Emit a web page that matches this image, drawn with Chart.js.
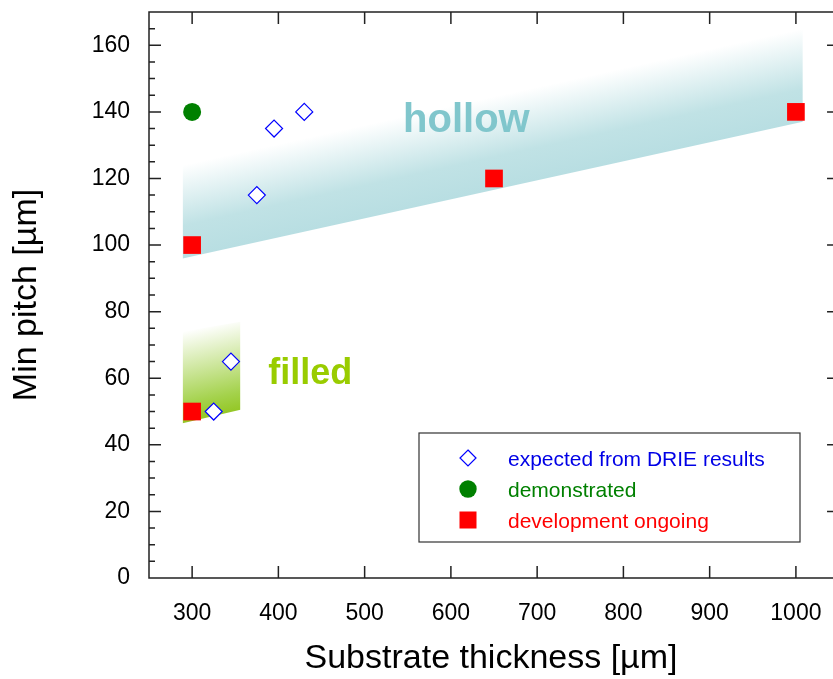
<!DOCTYPE html>
<html>
<head>
  <title>Min pitch vs substrate thickness</title>
  <script src="https://cdn.jsdelivr.net/npm/chart.js"></script>
  <style>
    html, body {
      margin: 0;
      padding: 0;
      background: #ffffff;
      overflow: hidden;
    }
  </style>
</head>
<body>
  <canvas id="pitch" width="833" height="679"></canvas>

  <script>
    // marker series
    var expectedX = [325, 345, 375, 395, 430];
    var expectedY = [50, 65, 115, 135, 140];
    var demoX = [300];
    var demoY = [140];
    var ongoingX = [300, 300, 650, 1000];
    var ongoingY = [50, 100, 120, 140];

    // shaded regions (lower and upper edge)
    var hollowX = [289, 1008];
    var hollowLow = [96, 137];
    var hollowHigh = [124, 165];
    var filledX = [289, 356];
    var filledLow = [46.5, 50.5];
    var filledHigh = [74, 77];

    // ticks
    var xTicks = [300, 400, 500, 600, 700, 800, 900, 1000];
    var yTicks = [0, 20, 40, 60, 80, 100, 120, 140, 160];
    var yMinorStep = 5;
    var xFrameEnd = 1050; // right frame sits just past the visible edge

    var legendLabels = ['expected from DRIE results', 'demonstrated', 'development ongoing'];

    function pts(xs, ys) {
      return xs.map(function (x, i) { return { x: x, y: ys[i] }; });
    }

    // gradient running across the slanted band, from the lower edge up
    function bandGradient(xs, low, high, stops) {
      return function (context) {
        var chart = context.chart;
        if (!chart.chartArea) return null;
        var sx = chart.scales.x, sy = chart.scales.y;
        var x0 = sx.getPixelForValue(xs[0]), x1 = sx.getPixelForValue(xs[1]);
        var b0 = sy.getPixelForValue(low[0]), b1 = sy.getPixelForValue(low[1]);
        var t0 = sy.getPixelForValue(high[0]);
        var dx = x1 - x0, dy = b1 - b0;
        var len = Math.sqrt(dx * dx + dy * dy);
        var nx = dy / len, ny = -dx / len;
        var dist = (t0 - b0) * ny;
        var mx = (x0 + x1) / 2, my = (b0 + b1) / 2;
        var g = chart.ctx.createLinearGradient(mx, my, mx + nx * dist, my + ny * dist);
        stops.forEach(function (s) { g.addColorStop(s[0], s[1]); });
        return g;
      };
    }

    function fixedTicks(list) {
      return function (scale) {
        scale.ticks = list.map(function (v) { return { value: v }; });
      };
    }

    var framePlugin = {
      id: 'frame',
      afterDraw: function (chart) {
        var ctx = chart.ctx, a = chart.chartArea;
        var sx = chart.scales.x, sy = chart.scales.y;
        var right = sx.getPixelForValue(xFrameEnd);
        ctx.save();
        ctx.strokeStyle = '#222222';
        ctx.lineWidth = 1.5;
        ctx.beginPath();
        ctx.moveTo(right, a.top); ctx.lineTo(a.left, a.top);
        ctx.lineTo(a.left, a.bottom); ctx.lineTo(right, a.bottom);
        ctx.lineTo(right, a.top);
        xTicks.forEach(function (v) {
          var px = sx.getPixelForValue(v);
          ctx.moveTo(px, a.bottom); ctx.lineTo(px, a.bottom - 12);
          ctx.moveTo(px, a.top); ctx.lineTo(px, a.top + 12);
        });
        for (var v = sy.min; v <= sy.max; v += yMinorStep) {
          var py = sy.getPixelForValue(v);
          var len = (v % 20 === 0) ? 12 : 6;
          ctx.moveTo(a.left, py); ctx.lineTo(a.left + len, py);
          ctx.moveTo(right, py); ctx.lineTo(right - len, py);
        }
        ctx.stroke();

        // region labels
        ctx.font = 'bold 40px "Liberation Sans", Arial, sans-serif';
        ctx.textAlign = 'center';
        ctx.textBaseline = 'alphabetic';
        ctx.fillStyle = '#80c6cc';
        ctx.fillText('hollow', sx.getPixelForValue(618), sy.getPixelForValue(134));
        ctx.font = 'bold 36px "Liberation Sans", Arial, sans-serif';
        ctx.fillStyle = '#99cc00';
        ctx.fillText('filled', sx.getPixelForValue(437), sy.getPixelForValue(58.3));

        // legend box
        var lx = a.left + 270, ly = 433, lw = 381, lh = 109;
        ctx.fillStyle = '#ffffff';
        ctx.fillRect(lx, ly, lw, lh);
        ctx.lineWidth = 1.2;
        ctx.strokeStyle = '#333333';
        ctx.strokeRect(lx, ly, lw, lh);
        var mxp = lx + 49;
        var rows = [458, 489, 520];
        // diamond
        ctx.beginPath();
        ctx.moveTo(mxp, rows[0] - 8); ctx.lineTo(mxp + 8, rows[0]);
        ctx.lineTo(mxp, rows[0] + 8); ctx.lineTo(mxp - 8, rows[0]);
        ctx.closePath();
        ctx.fillStyle = '#ffffff'; ctx.fill();
        ctx.strokeStyle = '#0000ff'; ctx.lineWidth = 1.2; ctx.stroke();
        // circle
        ctx.beginPath();
        ctx.arc(mxp, rows[1], 8.7, 0, Math.PI * 2);
        ctx.fillStyle = '#008000'; ctx.fill();
        // square
        ctx.fillStyle = '#ff0000';
        ctx.fillRect(mxp - 8.5, rows[2] - 8.5, 17, 17);

        ctx.font = '21px "Liberation Sans", Arial, sans-serif';
        ctx.textAlign = 'left';
        ctx.textBaseline = 'middle';
        var colors = ['#0000e6', '#008000', '#ff0000'];
        legendLabels.forEach(function (t, i) {
          ctx.fillStyle = colors[i];
          ctx.fillText(t, lx + 89, rows[i] + 2);
        });
        ctx.restore();
      }
    };

    var ctx = document.getElementById('pitch').getContext('2d');
    var myChart = new Chart(ctx, {
      type: 'line',
      data: {
        datasets: [
          {
            label: legendLabels[0],
            data: pts(expectedX, expectedY),
            showLine: false,
            pointStyle: 'rectRot',
            pointRadius: 8.5,
            pointBackgroundColor: '#ffffff',
            pointBorderColor: '#0000ff',
            pointBorderWidth: 1.2
          },
          {
            label: legendLabels[1],
            data: pts(demoX, demoY),
            showLine: false,
            pointStyle: 'circle',
            pointRadius: 9,
            pointBackgroundColor: '#008000',
            pointBorderColor: '#008000',
            pointBorderWidth: 0
          },
          {
            label: legendLabels[2],
            data: pts(ongoingX, ongoingY),
            showLine: false,
            pointStyle: 'rect',
            pointRadius: 12.5,
            pointBackgroundColor: '#ff0000',
            pointBorderColor: '#ff0000',
            pointBorderWidth: 0
          },
          {
            label: 'hollow low',
            data: pts(hollowX, hollowLow),
            borderWidth: 0,
            pointRadius: 0,
            fill: false
          },
          {
            label: 'hollow',
            data: pts(hollowX, hollowHigh),
            borderWidth: 0,
            pointRadius: 0,
            fill: '-1',
            backgroundColor: bandGradient(hollowX, hollowLow, hollowHigh,
              [[0, '#b8dee2'], [0.35, '#c0e2e5'], [1, '#ffffff']])
          },
          {
            label: 'filled low',
            data: pts(filledX, filledLow),
            borderWidth: 0,
            pointRadius: 0,
            fill: false
          },
          {
            label: 'filled',
            data: pts(filledX, filledHigh),
            borderWidth: 0,
            pointRadius: 0,
            fill: '-1',
            backgroundColor: bandGradient(filledX, filledLow, filledHigh,
              [[0, '#94c726'], [0.2, '#a4d24c'], [1, '#ffffff']])
          }
        ]
      },
      options: {
        responsive: false,
        animation: false,
        layout: { autoPadding: false, padding: { top: 12, right: 0, bottom: 0, left: 0 } },
        plugins: {
          legend: { display: false },
          tooltip: { enabled: false }
        },
        scales: {
          x: {
            type: 'linear',
            min: 250,
            max: 1043,
            grid: { display: false },
            border: { display: false },
            afterBuildTicks: fixedTicks(xTicks),
            afterFit: function (scale) {
              scale.height = 101;
              scale.paddingLeft = 0;
              scale.paddingRight = 0;
            },
            ticks: {
              padding: 14,
              color: '#000000',
              callback: function (v) { return String(v); },
              font: { family: '"Liberation Sans", Arial, sans-serif', size: 23 }
            },
            title: {
              display: true,
              text: 'Substrate thickness [µm]',
              color: '#000000',
              padding: { top: 0, bottom: 0 },
              font: { family: '"Liberation Sans", Arial, sans-serif', size: 34 }
            }
          },
          y: {
            type: 'linear',
            min: 0,
            max: 170,
            grid: { display: false },
            border: { display: false },
            afterBuildTicks: fixedTicks(yTicks),
            afterFit: function (scale) {
              scale.width = 149;
              scale.paddingTop = 0;
              scale.paddingBottom = 0;
            },
            ticks: {
              padding: 11,
              color: '#000000',
              callback: function (v) { return String(v); },
              font: { family: '"Liberation Sans", Arial, sans-serif', size: 23 }
            },
            title: {
              display: true,
              text: 'Min pitch [µm]',
              color: '#000000',
              padding: { top: 6, bottom: 6 },
              font: { family: '"Liberation Sans", Arial, sans-serif', size: 34 }
            }
          }
        }
      },
      plugins: [framePlugin]
    });
  </script>
</body>
</html>
